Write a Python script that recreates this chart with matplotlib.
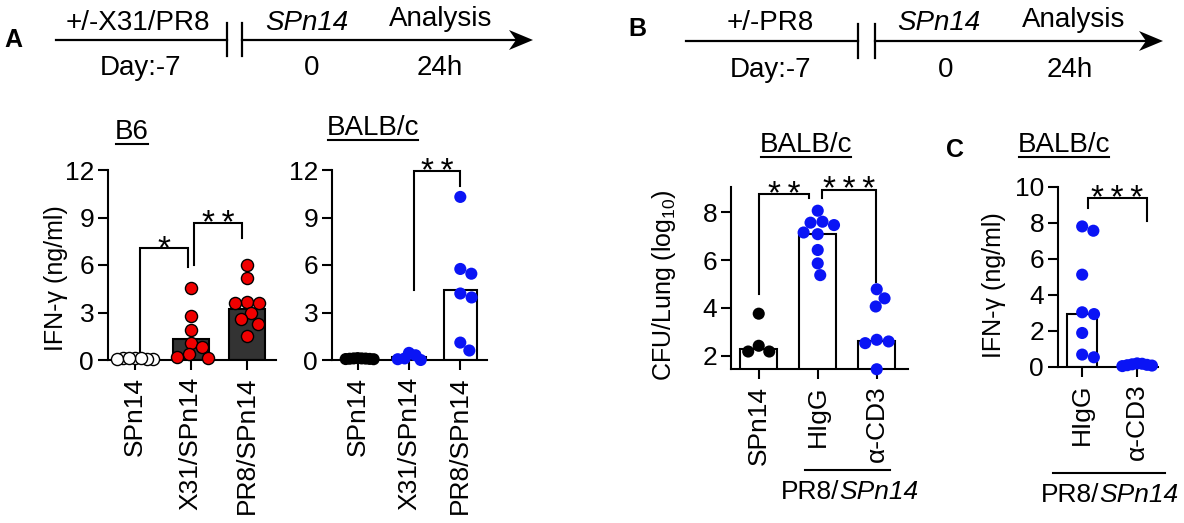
import numpy as np
import matplotlib.pyplot as plt
from matplotlib.patches import Polygon

plt.rcParams['font.family'] = ['Liberation Sans', 'DejaVu Sans']
plt.rcParams['mathtext.fontset'] = 'custom'
plt.rcParams['mathtext.rm'] = 'Liberation Sans'
plt.rcParams['mathtext.it'] = 'Liberation Sans:italic'

# ---- data ----
# Panel A, B6: IFN-g (ng/ml)
a_groups = ['SPn14', 'X31/SPn14', 'PR8/SPn14']
b6_spn14 = [0.1, 0.05, 0.15, 0.08, 0.12, 0.06, 0.1]
b6_x31 = [4.55, 2.8, 1.9, 1.1, 0.8, 0.35, 0.2, 0.15]
b6_pr8 = [6.0, 5.15, 3.65, 3.6, 3.62, 2.95, 2.6, 2.3, 1.5]
b6_bars = [0.1, 1.3, 3.25]

# Panel A, BALB/c: IFN-g (ng/ml)
balb_spn14 = [0.08, 0.1, 0.05, 0.12, 0.07, 0.1, 0.06, 0.09]
balb_x31 = [0.05, 0.45, 0.0, 0.3, 0.1]
balb_pr8 = [10.3, 5.45, 5.75, 3.95, 4.2, 0.6, 1.1]
balb_bars = [0.1, 0.2, 4.45]

# Panel B, BALB/c: CFU/Lung (log10)
b_groups = ['SPn14', 'HIgG', 'α-CD3']
b_spn14 = [3.76, 2.42, 2.18, 2.18]
b_higg = [8.06, 7.46, 7.56, 7.6, 7.08, 7.15, 6.42, 5.86, 5.37]
b_cd3 = [4.78, 4.4, 4.06, 2.67, 2.53, 2.6, 1.44]
b_bars = [2.3, 7.1, 2.64]

# Panel C, BALB/c: IFN-g (ng/ml)
c_groups = ['HIgG', 'α-CD3']
c_higg = [7.57, 7.81, 5.13, 3.04, 2.94, 1.89, 0.54, 0.69]
c_cd3 = [0.15, 0.2, 0.1, 0.05, 0.12, 0.18, 0.08]
c_bars = [2.94, 0.15]

RED = '#f00000'
BLUE = '#0a14f5'
DARK = '#333333'
FS = 19
MS = 76

W, H = 1184, 523
fig = plt.figure(figsize=(W / 100, H / 100), dpi=100)

over = fig.add_axes([0, 0, 1, 1])
over.set_xlim(0, W)
over.set_ylim(H, 0)
over.axis('off')
over.patch.set_alpha(0)


def px_axes(x0, x1, ytop, ybot):
    return fig.add_axes([x0 / W, 1 - ybot / H, (x1 - x0) / W, (ybot - ytop) / H])


def swarm(ax, xc, vals, diam):
    # simple beeswarm in pixel space
    t = ax.transData
    ppu = t.transform((xc + 1, 0))[0] - t.transform((xc, 0))[0]
    xs = np.zeros(len(vals))
    placed = []
    for i in np.argsort(vals)[::-1]:
        y = t.transform((xc, vals[i]))[1]
        forb = []
        for px, py in placed:
            dy = abs(py - y)
            if dy < diam:
                dx = np.sqrt(diam ** 2 - dy ** 2)
                forb.append((px - dx, px + dx))
        cands = sorted([0.0] + [e for f in forb for e in f], key=lambda c: (abs(c), -c))
        for c in cands:
            if all(not (a + 1e-6 < c < b - 1e-6) for a, b in forb):
                break
        placed.append((c, y))
        xs[i] = xc + c / ppu
    return xs


def style_axis(ax, labels, ylim, yticks, xlim):
    ax.set_xlim(*xlim)
    ax.set_ylim(*ylim)
    ax.set_yticks(yticks)
    ax.set_xticks(range(len(labels)))
    ax.set_xticklabels(labels, rotation=90)
    for s in ['top', 'right']:
        ax.spines[s].set_visible(False)
    for s in ['left', 'bottom']:
        ax.spines[s].set_linewidth(1.5)
    ax.tick_params(width=1.5, length=7, labelsize=FS, pad=3)
    ax.tick_params(axis='x', pad=5)
    ax.patch.set_alpha(0)


def draw_group(ax, xc, vals, bar, barcolor, face, edge, width, diam):
    ax.bar(xc, bar, width=width, color=barcolor, edgecolor='black', linewidth=1.5, zorder=1)
    xs = swarm(ax, xc, vals, diam)
    ax.scatter(xs, vals, s=MS, c=face, edgecolors=edge, linewidths=1.0, zorder=3, clip_on=False)


def bracket(ax, x1, x2, y1, ytop, y2, label):
    ax.plot([x1, x1, x2, x2], [y1, ytop, ytop, y2], color='black', lw=1.5, clip_on=False,
            solid_joinstyle='miter')
    ax.annotate('\u2009'.join(label), ((x1 + x2) / 2, ytop), xytext=(0, -7),
                textcoords='offset points', ha='center', va='baseline', fontsize=24,
                annotation_clip=False)


# ---- Panel A: B6 ----
ax1 = px_axes(108, 276, 170, 360)
style_axis(ax1, a_groups, (0, 12), [0, 3, 6, 9, 12], (-0.48, 2.52))
draw_group(ax1, 0, b6_spn14, b6_bars[0], DARK, 'white', 'black', 0.64, 6)
draw_group(ax1, 1, b6_x31, b6_bars[1], DARK, RED, 'black', 0.64, 12)
draw_group(ax1, 2, b6_pr8, b6_bars[2], DARK, RED, 'black', 0.64, 12)
bracket(ax1, 0.1, 0.95, 0.35, 7.05, 5.9, '*')
bracket(ax1, 1.05, 1.92, 6.0, 8.63, 7.68, '**')

# ---- Panel A: BALB/c ----
ax2 = px_axes(332, 487, 170, 360)
style_axis(ax2, a_groups, (0, 12), [0, 3, 6, 9, 12], (-0.5, 2.52))
draw_group(ax2, 0, balb_spn14, balb_bars[0], 'white', 'black', 'none', 0.65, 4)
draw_group(ax2, 1, balb_x31, balb_bars[1], 'white', BLUE, 'none', 0.65, 7)
draw_group(ax2, 2, balb_pr8, balb_bars[2], 'white', BLUE, 'none', 0.65, 12)
bracket(ax2, 1.1, 2.0, 4.45, 11.94, 11.0, '**')

# ---- Panel B ----
ax3 = px_axes(731, 908, 187, 369)
style_axis(ax3, b_groups, (1.45, 9.05), [2, 4, 6, 8], (-0.47, 2.53))
draw_group(ax3, 0, b_spn14, b_bars[0], 'white', 'black', 'none', 0.63, 12)
draw_group(ax3, 1, b_higg, b_bars[1], 'white', BLUE, 'none', 0.63, 12)
draw_group(ax3, 2, b_cd3, b_bars[2], 'white', BLUE, 'none', 0.63, 12)
bracket(ax3, 0.0, 0.86, 4.57, 8.75, 8.57, '**')
bracket(ax3, 1.08, 1.98, 8.57, 8.94, 5.1, '***')

# ---- Panel C ----
ax4 = px_axes(1058, 1158, 187, 367)
style_axis(ax4, c_groups, (0, 10), [0, 2, 4, 6, 8, 10], (-0.44, 1.38))
draw_group(ax4, 0, c_higg, c_bars[0], 'white', BLUE, 'none', 0.55, 12)
draw_group(ax4, 1, c_cd3, c_bars[1], 'white', BLUE, 'none', 0.55, 5)
bracket(ax4, 0.11, 1.18, 8.83, 9.39, 8.09, '***')

# ---- y labels ----
over.text(56, 278, 'IFN-γ (ng/ml)', rotation=90, ha='center', va='center', fontsize=18)
over.text(664, 285, 'CFU/Lung (log$_{10}$)', rotation=90, ha='center', va='center', fontsize=18)
over.text(994, 285, 'IFN-γ (ng/ml)', rotation=90, ha='center', va='center', fontsize=18)

# ---- panel letters ----
for lx, ly, lt in [(13, 40, 'A'), (637, 29, 'B'), (955, 150, 'C')]:
    over.text(lx, ly, lt, ha='center', va='center', fontsize=18, fontweight='bold')


# ---- timelines ----
def timeline(x0, xb1, xb2, xend, y, ytop, ybot):
    over.plot([x0, xb1], [y, y], color='black', lw=1.6)
    over.plot([xb1, xb1], [ytop, ybot], color='black', lw=1.6)
    over.plot([xb2, xb2], [ytop, ybot], color='black', lw=1.6)
    over.plot([xb2, xend - 10], [y, y], color='black', lw=1.6)
    over.add_patch(Polygon([(xend, y), (xend - 24, y - 10), (xend - 17, y), (xend - 24, y + 10)],
                           closed=True, color='black', lw=0))


timeline(56, 227, 242, 533, 40, 23, 56)
over.text(138, 29.5, '+/-X31/PR8', ha='center', va='baseline', fontsize=20)
over.text(140, 75, 'Day:-7', ha='center', va='baseline', fontsize=20)
over.text(307, 29.5, 'SPn14', ha='center', va='baseline', fontsize=20, style='italic')
over.text(312, 75, '0', ha='center', va='baseline', fontsize=20)
over.text(441, 26, 'Analysis', ha='center', va='baseline', fontsize=20)
over.text(440, 75, '24h', ha='center', va='baseline', fontsize=20)

timeline(686, 858, 875, 1163, 41, 24, 58)
over.text(770, 30, '+/-PR8', ha='center', va='baseline', fontsize=20)
over.text(770, 77, 'Day:-7', ha='center', va='baseline', fontsize=20)
over.text(939, 30, 'SPn14', ha='center', va='baseline', fontsize=20, style='italic')
over.text(946, 77, '0', ha='center', va='baseline', fontsize=20)
over.text(1074, 27, 'Analysis', ha='center', va='baseline', fontsize=20)
over.text(1070, 77, '24h', ha='center', va='baseline', fontsize=20)

# ---- underlined titles ----
titles = []
for tx, ty, tt in [(132, 132, 'B6'), (373, 128, 'BALB/c'), (806, 145, 'BALB/c'), (1064, 145, 'BALB/c')]:
    titles.append(over.text(tx, ty, tt, ha='center', va='center', fontsize=20))

# ---- group labels under B and C ----
groups = []
for gx0, gx1, gy, gxt in [(805, 890, 470, 850), (1053, 1165, 473, 1110)]:
    over.plot([gx0, gx1], [gy, gy], color='black', lw=1.5)
    t1 = over.text(gxt, gy + 22, 'PR8/', ha='left', va='center', fontsize=19)
    t2 = over.text(gxt, gy + 22, 'SPn14', ha='left', va='center', fontsize=19, style='italic')
    groups.append((gxt, t1, t2))

fig.canvas.draw()
inv = over.transData.inverted()
for t in titles:
    bb = t.get_window_extent()
    (xa, yb), (xb, _) = inv.transform([(bb.x0, bb.y0), (bb.x1, bb.y0)])
    over.plot([xa + 1, xb - 1], [yb - 1, yb - 1], color='black', lw=1.5)
for gxt, t1, t2 in groups:
    w1 = t1.get_window_extent().width
    w2 = t2.get_window_extent().width
    start = gxt - (w1 + w2) / 2
    t1.set_x(start)
    t2.set_x(start + w1)

fig.savefig('out.png', dpi=100)
